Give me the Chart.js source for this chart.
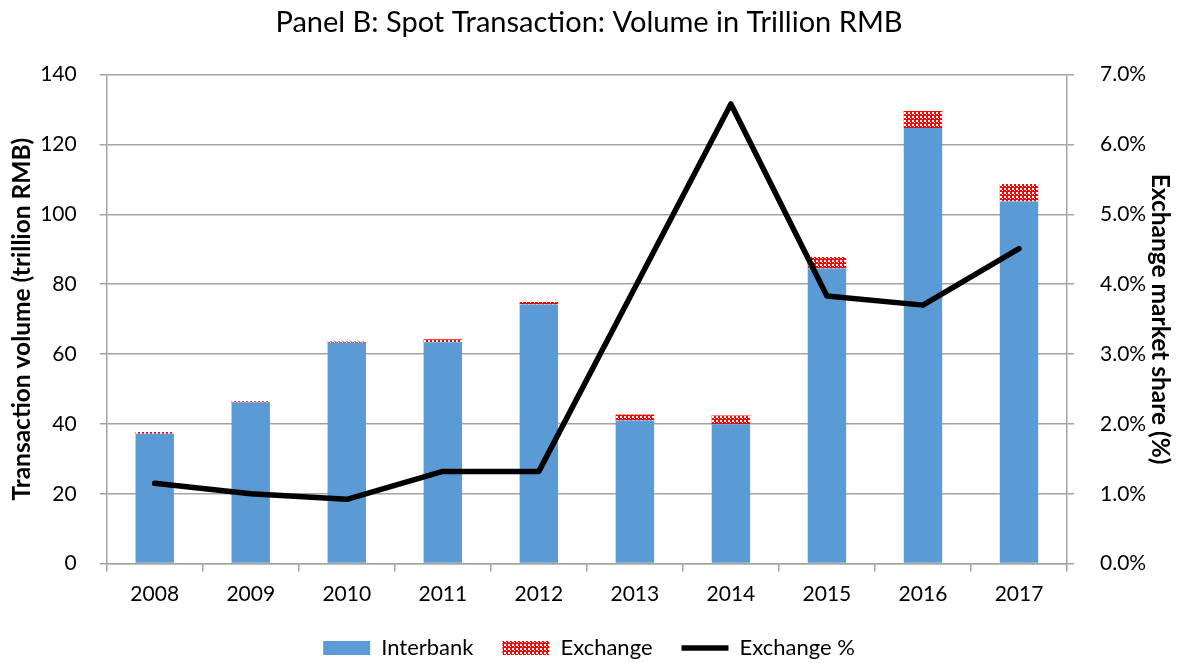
<!DOCTYPE html>
<html>
<head>
<meta charset="utf-8">
<script src="https://cdn.jsdelivr.net/npm/chart.js@4.4.1/dist/chart.umd.min.js"></script>
<style>
    html, body { margin: 0; padding: 0; background: #fff; }
</style>
</head>
<body>
<canvas id="myChart" width="1178" height="663"></canvas>
<script>
// data
var years = ['2008', '2009', '2010', '2011', '2012', '2013', '2014', '2015', '2016', '2017'];
var interbank = [37.2, 46.1, 63.2, 63.4, 74.2, 41.0, 39.9, 84.5, 124.7, 103.7];
var exchange = [0.5, 0.4, 0.4, 0.8, 0.7, 1.7, 2.5, 3.3, 4.9, 5.0];
var exchangePct = [1.15, 1.0, 0.92, 1.32, 1.32, 3.95, 6.58, 3.83, 3.70, 4.51];
var volumeTicks = [0, 20, 40, 60, 80, 100, 120, 140];
var shareTicks = [0, 1, 2, 3, 4, 5, 6, 7];

var FONT = 'Lato, "Open Sans", sans-serif';
var gridColor = '#a3a3a3';

// red / white checker fill like the excel pattern
function makePattern() {
    var c = document.createElement('canvas');
    c.width = 4; c.height = 4;
    var g = c.getContext('2d');
    g.fillStyle = '#ff0000';
    g.fillRect(0, 0, 4, 4);
    g.fillStyle = '#ffffff';
    g.fillRect(0, 0, 2, 2);
    g.fillRect(2, 2, 1, 1);
    return g.createPattern(c, 'repeat');
}

var ctx = document.getElementById('myChart').getContext('2d');
var myChart = new Chart(ctx, {
    type: 'bar',
    data: {
        labels: years,
        datasets: [{
            type: 'line',
            label: 'Exchange %',
            data: exchangePct,
            yAxisID: 'y1',
            borderColor: '#000',
            backgroundColor: '#000',
            borderWidth: 5.5,
            pointRadius: 0,
            tension: 0,
            borderJoinStyle: 'round',
            borderCapStyle: 'round',
            order: 0
        }, {
            label: 'Interbank',
            data: interbank,
            backgroundColor: '#5b9bd5',
            borderWidth: 0,
            stack: 's',
            barPercentage: 0.4,
            categoryPercentage: 1,
            order: 1
        }, {
            label: 'Exchange',
            data: exchange,
            backgroundColor: makePattern(),
            borderWidth: 0,
            stack: 's',
            barPercentage: 0.4,
            categoryPercentage: 1,
            order: 1
        }]
    },
    options: {
        responsive: false,
        animation: false,
        layout: { padding: { left: 0, right: 0, top: 0, bottom: -6 } },
        plugins: {
            tooltip: { enabled: false },
            title: {
                display: true,
                text: 'Panel B: Spot Transaction: Volume in Trillion RMB',
                color: '#000',
                font: { family: FONT, size: 29, weight: 'normal' },
                padding: { top: 5, bottom: 34.8 }
            },
            legend: {
                position: 'bottom',
                labels: {
                    color: '#000',
                    font: { family: FONT, size: 22 },
                    usePointStyle: true,
                    pointStyleWidth: 47,
                    boxHeight: 14,
                    padding: 29,
                    sort: function (a, b) { return b.datasetIndex === 0 ? -1 : (a.datasetIndex === 0 ? 1 : a.datasetIndex - b.datasetIndex); },
                    generateLabels: function (chart) {
                        var items = Chart.defaults.plugins.legend.labels.generateLabels(chart);
                        items.forEach(function (it) {
                            it.pointStyle = it.datasetIndex === 0 ? 'line' : 'rect';
                        });
                        return items;
                    }
                }
            }
        },
        scales: {
            x: {
                stacked: true,
                offset: true,
                grid: { display: true, offset: true, drawOnChartArea: false, color: gridColor, lineWidth: 1.5, tickLength: 8 },
                border: { color: gridColor, width: 1.5 },
                ticks: { color: '#000', font: { family: FONT, size: 21 }, padding: 10 },
                afterFit: function (scale) { scale.height = 44.4; }
            },
            y: {
                stacked: true,
                position: 'left',
                min: volumeTicks[0],
                max: volumeTicks[volumeTicks.length - 1],
                afterBuildTicks: function (scale) {
                    scale.ticks = volumeTicks.map(function (v) { return { value: v }; });
                },
                grid: { color: gridColor, lineWidth: 1.5, tickLength: 7 },
                border: { color: gridColor, width: 1.5 },
                ticks: { color: '#000', font: { family: FONT, size: 21 }, padding: 23 },
                title: {
                    display: true,
                    text: 'Transaction volume (trillion RMB)',
                    color: '#000',
                    font: { family: FONT, size: 24.5, weight: 'bold' },
                    padding: { top: 7 }
                },
                afterFit: function (scale) { scale.width = 106.7; }
            },
            y1: {
                position: 'right',
                min: shareTicks[0],
                max: shareTicks[shareTicks.length - 1],
                afterBuildTicks: function (scale) {
                    scale.ticks = shareTicks.map(function (v) { return { value: v }; });
                },
                grid: { drawOnChartArea: false, color: gridColor, lineWidth: 1.5, tickLength: 7 },
                border: { color: gridColor, width: 1.5 },
                ticks: {
                    color: '#000',
                    font: { family: FONT, size: 21 },
                    padding: 26,
                    callback: function (v) { return v.toFixed(1) + '%'; }
                },
                title: {
                    display: true,
                    text: 'Exchange market share (%)',
                    color: '#000',
                    font: { family: FONT, size: 24.5, weight: 'bold' },
                    padding: { top: 3 }
                },
                afterFit: function (scale) { scale.width = 111; }
            }
        }
    }
});
</script>
</body>
</html>
